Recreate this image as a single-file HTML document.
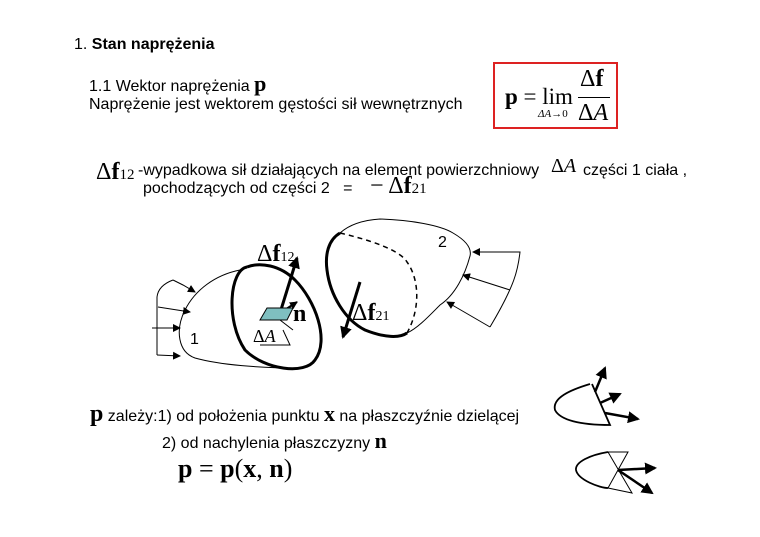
<!DOCTYPE html>
<html><head><meta charset="utf-8"><style>
body{margin:0;background:#fff;}
.p{position:absolute;font-family:"Liberation Sans",sans-serif;font-size:16px;color:#000;white-space:nowrap;}
.s{position:absolute;font-family:"Liberation Serif",serif;color:#000;white-space:nowrap;}
</style></head><body>
<div style="position:relative;width:760px;height:537px;overflow:hidden">
<div class="p" style="left:74px;top:36px">1. <b>Stan naprężenia</b></div>
<div class="p" style="left:89px;top:76px">1.1 Wektor naprężenia <span style="font-family:'Liberation Serif';font-weight:bold;font-size:22px;line-height:16px">p</span></div>
<div class="p" style="left:89px;top:96px">Naprężenie jest wektorem gęstości sił wewnętrznych</div>
<div style="position:absolute;left:493px;top:62px;width:125px;height:67px;border:2px solid #d22;box-sizing:border-box"></div>
<div class="s" style="left:505px;top:84px;font-size:23px"><b>p</b> = lim</div>
<div class="s" style="left:538px;top:108px;font-size:11px"><i>ΔA</i>→0</div>
<div class="s" style="left:580px;top:66px;font-size:24px">Δ<b>f</b></div>
<div style="position:absolute;left:578px;top:97px;width:32px;height:1px;background:#000"></div>
<div class="s" style="left:578px;top:100px;font-size:24px">Δ<i>A</i></div>

<div class="s" style="left:96px;top:159px;font-size:24px">Δ<b>f</b><span style="font-size:15px">12</span></div>
<div class="p" style="left:138px;top:162px">-wypadkowa sił działających na element powierzchniowy</div>
<div class="s" style="left:551px;top:155px;font-size:20px">Δ<i>A</i></div>
<div class="p" style="left:583px;top:162px">części 1 ciała ,</div>
<div class="p" style="left:143px;top:180px">pochodzących od części 2 &nbsp;&nbsp;=</div>
<div class="s" style="left:370px;top:173px;font-size:24px">− Δ<b>f</b><span style="font-size:15px">21</span></div>

<svg style="position:absolute;left:0;top:0" width="760" height="537">
<defs><marker id="a" markerWidth="8" markerHeight="8" refX="7" refY="4" orient="auto" markerUnits="userSpaceOnUse"><path d="M0,0L8,4L0,8z"/></marker>
<marker id="b" markerWidth="12" markerHeight="12" refX="10" refY="6" orient="auto" markerUnits="userSpaceOnUse"><path d="M0,0L12,6L0,12z"/></marker></defs>
<g fill="none" stroke="#000">
<path d="M240,270 C215,275 195,290 185,310 C175,330 178,352 195,358 C220,365 260,368 300,368" stroke-width="1"/>
<path d="M173,280 C165,283 158,288 157,297 L157,355" />
<path d="M173,280 L183,285 L195,292" marker-end="url(#a)"/>
<path d="M158,307 L190,312" marker-end="url(#a)"/>
<path d="M152,328 L180,328" marker-end="url(#a)"/>
<path d="M157,355 L180,356" marker-end="url(#a)"/>
<path d="M247,267 C230,270 225,320 245,350 C265,370 305,375 315,360 C330,340 315,300 295,280 C280,265 260,262 247,267" stroke-width="3"/>
<path d="M340,233 C328,240 325,255 327,270 C330,295 345,320 365,330 C385,338 400,338 407,333" stroke-width="3"/>
<path d="M340,233 C370,240 400,250 407,262 C420,280 420,310 407,333" stroke-dasharray="5,4" stroke-width="1.5"/>
<path d="M340,233 C350,224 365,220 380,219 C410,220 440,225 453,233 C465,240 472,248 470,256 C465,275 455,295 440,305 C430,315 418,328 407,333"/>
<path d="M473,252 L520,252 C518,270 515,285 490,327"/>
<path d="M520,252 L473,252" marker-end="url(#a)"/>
<path d="M510,290 L463,275" marker-end="url(#a)"/>
<path d="M490,327 L447,302" marker-end="url(#a)"/>
<path d="M280,313 L297,258" stroke-width="3" marker-end="url(#b)"/>
<path d="M280,313 L297,302" stroke-width="2" marker-end="url(#a)"/>
<path d="M360,282 L343,337" stroke-width="3" marker-end="url(#b)"/>
<path d="M280,320 L293,330 M283,330 L290,345 L260,345" stroke-width="1"/>
<path d="M590,384 C570,390 552,398 555,410 C560,420 580,425 610,425 L592,384" stroke-width="1.8"/>
<path d="M595,392 L605,368" stroke-width="2.5" marker-end="url(#b)"/>
<path d="M600,403 L620,394" stroke-width="2.5" marker-end="url(#b)"/>
<path d="M605,413 L638,419" stroke-width="2.5" marker-end="url(#b)"/>
<path d="M608,452 C590,455 575,462 576,470 C578,480 600,488 608,488" stroke-width="1.8"/>
<path d="M608,452 L628,452 L608,488 L632,493 L608,452" stroke-width="1"/>
<path d="M618,470 L655,468" stroke-width="2.5" marker-end="url(#b)"/>
<path d="M618,470 L652,493" stroke-width="2.5" marker-end="url(#b)"/>
</g>
<path d="M267,308 L293,308 L287,320 L260,320 Z" fill="#7fbfc0" stroke="#000" stroke-width="1"/>
</svg>
<div class="s" style="left:257px;top:241px;font-size:24px">Δ<b>f</b><span style="font-size:14px">12</span></div>
<div class="s" style="left:293px;top:301px;font-size:24px"><b>n</b></div>
<div class="s" style="left:253px;top:326px;font-size:18px">Δ<i>A</i></div>
<div class="s" style="left:352px;top:300px;font-size:24px">Δ<b>f</b><span style="font-size:14px">21</span></div>
<div class="p" style="left:190px;top:331px">1</div>
<div class="p" style="left:438px;top:234px">2</div>

<div class="p" style="left:90px;top:406px"><span style="font-family:'Liberation Serif';font-weight:bold;font-size:24px;line-height:16px">p</span> zależy:1) od położenia punktu <span style="font-family:'Liberation Serif';font-weight:bold;font-size:22px;line-height:16px">x</span> na płaszczyźnie dzielącej</div>
<div class="p" style="left:162px;top:433px">2) od nachylenia płaszczyzny <span style="font-family:'Liberation Serif';font-weight:bold;font-size:22px;line-height:16px">n</span></div>
<div class="s" style="left:178px;top:454px;font-size:26px"><b>p</b> = <b>p</b>(<b>x</b>, <b>n</b>)</div>
</div>
</body></html>
